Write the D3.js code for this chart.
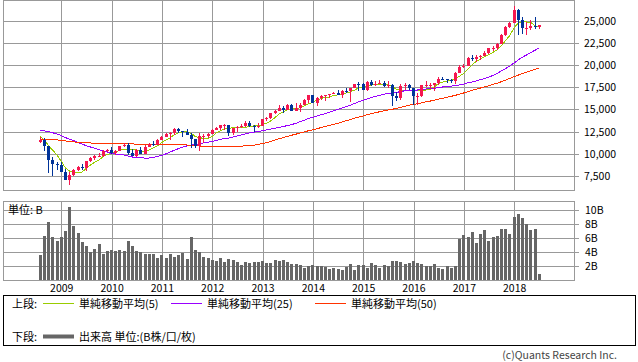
<!DOCTYPE html>
<html>
<head>
<meta charset="utf-8">
<script src="https://cdn.jsdelivr.net/npm/d3@7/dist/d3.min.js"></script>
<style>
body { margin: 0; background: #fff; }
svg text { font-family: "Noto Sans CJK JP", "Noto Sans", sans-serif; }
</style>
</head>
<body>
<svg id="chart" width="638" height="362"></svg>
<script>
/**
 * Monthly candles, Aug 2008 - Jul 2018
 */
var startMonth = new Date(2008, 7, 1);
var endMonth = new Date(2018, 7, 1);

var opens = [
    11378, 11544, 10851, 9325, 8829,
    8776, 8001, 7063, 7609, 8168, 8500, 8447, 9172, 9496, 9712, 9713, 10345,
    10428, 10067, 10325, 10857, 11009, 10137, 9774, 10466, 10015, 10788, 11118, 11006,
    11578, 11892, 12226, 12320, 12811, 12570, 12414, 12143, 11614, 10913, 11955, 12046,
    12218, 12633, 12952, 13212, 13214, 12393, 12880, 13009, 13091, 13437, 13096, 13026,
    13104, 13861, 14054, 14579, 14840, 15116, 14910, 15500, 14810, 15130, 15546, 16086,
    16577, 15699, 16322, 16458, 16581, 16717, 16827, 16563, 17098, 17043, 17391, 17828,
    17823, 17165, 18133, 17776, 17841, 18011, 17620, 17690, 16528, 16285, 17664, 17720,
    17425, 16466, 16517, 17685, 17774, 17787, 17930, 18432, 18401, 18308, 18142, 19124,
    19763, 19864, 20812, 20663, 20941, 21009, 21350, 21891, 21948, 22405, 23377, 24272,
    24719, 26149, 25029, 24103, 24163, 24416, 24271
];
var highs = [
    11867, 11790, 10882, 9654, 9026,
    9088, 8280, 7925, 8254, 8588, 8878, 9244, 9630, 9917, 10120, 10406, 10580,
    10730, 10402, 10905, 11258, 11205, 10594, 10581, 10720, 10948, 11246, 11452, 11626,
    11980, 12391, 12419, 12876, 12877, 12570, 12754, 12284, 11716, 12284, 12188, 12330,
    12841, 13055, 13290, 13338, 13280, 12899, 13142, 13330, 13653, 13662, 13290, 13430,
    13970, 14149, 14585, 14888, 15542, 15340, 15634, 15658, 15710, 15710, 16174, 16589,
    16588, 16398, 16588, 16631, 16736, 16978, 17151, 17135, 17350, 17395, 17895, 18103,
    17951, 18244, 18289, 18175, 18351, 18214, 18182, 17820, 16934, 17800, 17978, 17888,
    17425, 16797, 17790, 18168, 17935, 18017, 18622, 18668, 18450, 18399, 19153, 19988,
    20125, 20852, 21169, 21070, 21113, 21535, 21930, 22179, 22420, 23485, 24328, 24877,
    26617, 26307, 25450, 24858, 25087, 25403, 24460
];
var lows = [
    11221, 10365, 7882, 7449, 8149,
    7909, 7000, 6470, 7467, 8087, 8222, 8087, 9087, 9252, 9597, 9679, 10235,
    10025, 9835, 10300, 10780, 9870, 9757, 9614, 9936, 9940, 10712, 10929, 11006,
    11577, 11892, 11555, 12093, 12330, 11862, 12093, 10604, 10597, 10362, 11231, 11735,
    12217, 12630, 12710, 12710, 12035, 12101, 12492, 12870, 13000, 12960, 12471, 12883,
    13104, 13693, 13937, 14444, 14761, 14551, 14910, 14760, 14777, 14720, 15473, 15704,
    15699, 15341, 16016, 15956, 16334, 16673, 16562, 16333, 16883, 15855, 17374, 17068,
    17137, 17038, 17585, 17584, 17818, 17465, 17399, 15370, 15942, 16013, 17210, 17129,
    15450, 15503, 16400, 17484, 17331, 17063, 17713, 18289, 17992, 17959, 17884, 19077,
    19678, 19831, 20412, 20379, 20554, 20963, 21279, 21600, 21710, 22400, 23242, 24140,
    24700, 23360, 23509, 23345, 23908, 24012, 24075
];
var closes = [
    11544, 10851, 9325, 8829, 8776,
    8001, 7063, 7609, 8168, 8500, 8447, 9172, 9496, 9712, 9713, 10345, 10428,
    10067, 10325, 10857, 11009, 10137, 9774, 10466, 10015, 10788, 11118, 11006, 11578,
    11892, 12226, 12320, 12811, 12570, 12414, 12143, 11614, 10913, 11955, 12046, 12218,
    12633, 12952, 13212, 13214, 12393, 12880, 13009, 13091, 13437, 13096, 13026, 13104,
    13861, 14054, 14579, 14840, 15116, 14910, 15500, 14810, 15130, 15546, 16086, 16577,
    15699, 16322, 16458, 16581, 16717, 16827, 16563, 17098, 17043, 17391, 17828, 17823,
    17165, 18133, 17776, 17841, 18011, 17620, 17690, 16528, 16285, 17664, 17720, 17425,
    16466, 16517, 17685, 17774, 17787, 17930, 18432, 18401, 18308, 18142, 19124, 19763,
    19864, 20812, 20663, 20941, 21009, 21350, 21891, 21948, 22405, 23377, 24272, 24719,
    26149, 25029, 24103, 24163, 24416, 24271, 24440
];
// closes before the first candle (Jul 2004 - Jul 2008), needed by the moving averages
var priorCloses = [
    10140, 10174, 10080, 10027, 10428, 10783,
    10490, 10766, 10504, 10193, 10467, 10275, 10641, 10482, 10569, 10440, 10806, 10718,
    10865, 10993, 11109, 11367, 11168, 11150, 11186, 11381, 11679, 12081, 12222, 12463,
    12622, 12269, 12354, 13063, 13628, 13409, 13212, 13358, 13896, 13930, 13372, 13265,
    12650, 12266, 12263, 12820, 12638, 11350, 11378
];
// volume, billions
var volumes = [
    3.6, 6.3, 8.3, 6.2, 5.6,
    6.2, 7.05, 10.5, 7.75, 6.75, 5.5, 4.9, 4.05, 4.5, 5.2, 3.75, 4.2,
    4.35, 4.2, 4.35, 4.2, 5.6, 4.9, 4.2, 4.05, 3.75, 3.75, 3.75, 3.2,
    3.6, 3.2, 3.75, 3.35, 3.6, 3.9, 3.05, 6.2, 4.35, 4.0, 3.33, 3.19,
    2.9, 2.76, 3.19, 2.62, 3.05, 2.9, 2.62, 2.19, 2.62, 2.48, 2.62, 2.62,
    2.76, 2.48, 2.48, 2.9, 2.76, 2.9, 2.62, 2.33, 2.33, 2.19, 1.76, 2.05,
    2.19, 2.05, 2.05, 1.9, 1.62, 1.76, 1.62, 1.48, 1.9, 2.33, 1.48, 2.19,
    2.19, 1.76, 2.48, 2.19, 1.76, 2.19, 2.05, 2.76, 2.76, 2.62, 2.33, 2.48,
    2.76, 2.48, 2.33, 2.05, 2.05, 2.33, 1.76, 1.62, 2.05, 1.76, 2.05, 5.9,
    6.48, 6.19, 6.9, 5.33, 6.62, 7.19, 5.62, 6.19, 6.33, 7.33, 7.33, 6.62,
    9.05, 9.48, 8.9, 8.05, 7.19, 7.33, 0.9
];

var priceTicks = [7500, 10000, 12500, 15000, 17500, 20000, 22500, 25000];
var volumeTicks = [2, 4, 6, 8, 10];
var maPeriods = [5, 25, 50];
var maColors = ["#99cc00", "#9900ff", "#ff3300"];
var maLabels = ["単純移動平均(5)", "単純移動平均(25)", "単純移動平均(50)"];

var upColor = "#f5174f";
var downColor = "#003399";
var gridColor = "#999999";

window.onload = function(){
    drawChart();
};

function movingAverage(period) {
    var all = priorCloses.concat(closes);
    var off = priorCloses.length;
    return closes.map(function(c, i){
        return d3.mean(all.slice(off + i - period + 1, off + i + 1));
    });
}

function drawChart() {
    var svg = d3.select("#chart");
    var left = 3, right = 574;
    var upper = {top: 0, bottom: 190};
    var lower = {top: 201, bottom: 280};

    var months = d3.timeMonths(startMonth, endMonth);

    var x = d3.scaleBand()
        .domain(months)
        .range([38.2, 541.4]);
    var cx = function(i){ return x(months[i]) + x.bandwidth() / 2; };

    var y = d3.scaleLinear()
        .domain([7500, 25000])
        .range([176, 20.5]);

    var yVol = d3.scaleLinear()
        .domain([0, 10])
        .range([280.3, 210.3]);

    var px = function(v){ return Math.round(v) + 0.5; };

    var janIdx = months.map(function(m, i){ return i; })
        .filter(function(i){ return months[i].getMonth() === 0; });

    // grids
    var g = svg.append("g")
        .attr("shape-rendering", "crispEdges")
        .attr("stroke", gridColor)
        .attr("fill", "none");

    [upper, lower].forEach(function(p){
        g.selectAll(null)
            .data(janIdx)
            .enter()
            .append("line")
            .attr("x1", function(i){ return px(cx(i)); })
            .attr("x2", function(i){ return px(cx(i)); })
            .attr("y1", p.top)
            .attr("y2", p.bottom);
        g.append("rect")
            .attr("x", left + 0.5)
            .attr("y", p.top + 0.5)
            .attr("width", right - left)
            .attr("height", p.bottom - p.top);
    });

    g.selectAll(null)
        .data(priceTicks)
        .enter()
        .append("line")
        .attr("x1", left)
        .attr("x2", right + 5)
        .attr("y1", function(d){ return px(y(d)); })
        .attr("y2", function(d){ return px(y(d)); });

    g.selectAll(null)
        .data(volumeTicks)
        .enter()
        .append("line")
        .attr("x1", left)
        .attr("x2", right + 5)
        .attr("y1", function(d){ return px(yVol(d)); })
        .attr("y2", function(d){ return px(yVol(d)); });

    // axis labels
    svg.selectAll(null)
        .data(priceTicks)
        .enter()
        .append("text")
        .attr("x", 584)
        .attr("y", function(d){ return y(d) + 4; })
        .style("font-size", "10.5px")
        .text(d3.format(","));

    svg.selectAll(null)
        .data(volumeTicks)
        .enter()
        .append("text")
        .attr("x", 585)
        .attr("y", function(d){ return yVol(d) + 4; })
        .style("font-size", "10.5px")
        .text(function(d){ return d + "B"; });

    svg.selectAll(null)
        .data(janIdx)
        .enter()
        .append("text")
        .attr("x", function(i){ return cx(i) + 0.5; })
        .attr("y", 291.5)
        .attr("text-anchor", "middle")
        .style("font-size", "10.5px")
        .text(function(i){ return months[i].getFullYear(); });

    svg.append("text")
        .attr("x", 8)
        .attr("y", 214)
        .style("font-size", "11px")
        .text("単位: B");

    // volume bars
    svg.append("g")
        .attr("shape-rendering", "crispEdges")
        .selectAll("rect")
        .data(volumes)
        .enter()
        .append("rect")
        .attr("x", function(d, i){ return Math.round(cx(i) - 1.5); })
        .attr("width", 3)
        .attr("y", function(d){ return yVol(d); })
        .attr("height", function(d){ return yVol(0) - yVol(d); })
        .style("fill", "#666666");

    // moving averages
    var line = d3.line()
        .x(function(d, i){ return cx(i); })
        .y(function(d){ return y(d); });

    maPeriods.forEach(function(p, k){
        svg.append("path")
            .datum(movingAverage(p))
            .attr("d", line)
            .attr("shape-rendering", "crispEdges")
            .style("fill", "none")
            .style("stroke", maColors[k])
            .style("stroke-width", 1);
    });

    // candles
    svg.append("g")
        .attr("shape-rendering", "crispEdges")
        .selectAll("g")
        .data(closes)
        .enter()
        .append("g")
        .each(function(c, i){
            var o = opens[i];
            var col = c >= o ? upColor : downColor;
            var bx = Math.round(cx(i) - 1.5);
            var top = y(Math.max(o, c)), bot = y(Math.min(o, c));
            var el = d3.select(this);
            el.append("line")
                .attr("x1", bx + 1.5)
                .attr("x2", bx + 1.5)
                .attr("y1", y(highs[i]))
                .attr("y2", y(lows[i]))
                .style("stroke", col);
            el.append("rect")
                .attr("x", bx)
                .attr("width", 3)
                .attr("y", top)
                .attr("height", Math.max(1, bot - top))
                .style("fill", col);
        });

    // legend
    var lg = svg.append("g");
    lg.append("rect")
        .attr("x", 3.5)
        .attr("y", 295.5)
        .attr("width", 632)
        .attr("height", 50)
        .attr("shape-rendering", "crispEdges")
        .style("fill", "none")
        .style("stroke", "#000");

    lg.append("text").attr("x", 12).attr("y", 308).style("font-size", "11px").text("上段:");
    var legX = [43, 171, 315];
    maLabels.forEach(function(t, k){
        lg.append("line")
            .attr("x1", legX[k]).attr("x2", legX[k] + 31)
            .attr("y1", 303.5).attr("y2", 303.5)
            .attr("shape-rendering", "crispEdges")
            .style("stroke", maColors[k]);
        lg.append("text")
            .attr("x", legX[k] + 36)
            .attr("y", 308)
            .style("font-size", "11px")
            .text(t);
    });

    lg.append("text").attr("x", 12).attr("y", 341).style("font-size", "11px").text("下段:");
    lg.append("line")
        .attr("x1", 43).attr("x2", 74)
        .attr("y1", 336.5).attr("y2", 336.5)
        .style("stroke", "#666666")
        .style("stroke-width", 4);
    lg.append("text")
        .attr("x", 79)
        .attr("y", 341)
        .style("font-size", "11px")
        .text("出来高 単位:(B株/口/枚)");

    svg.append("text")
        .attr("x", 617)
        .attr("y", 359)
        .attr("text-anchor", "end")
        .style("font-size", "10.5px")
        .style("fill", "#444")
        .text("(c)Quants Research Inc.");
}
</script>
</body>
</html>
